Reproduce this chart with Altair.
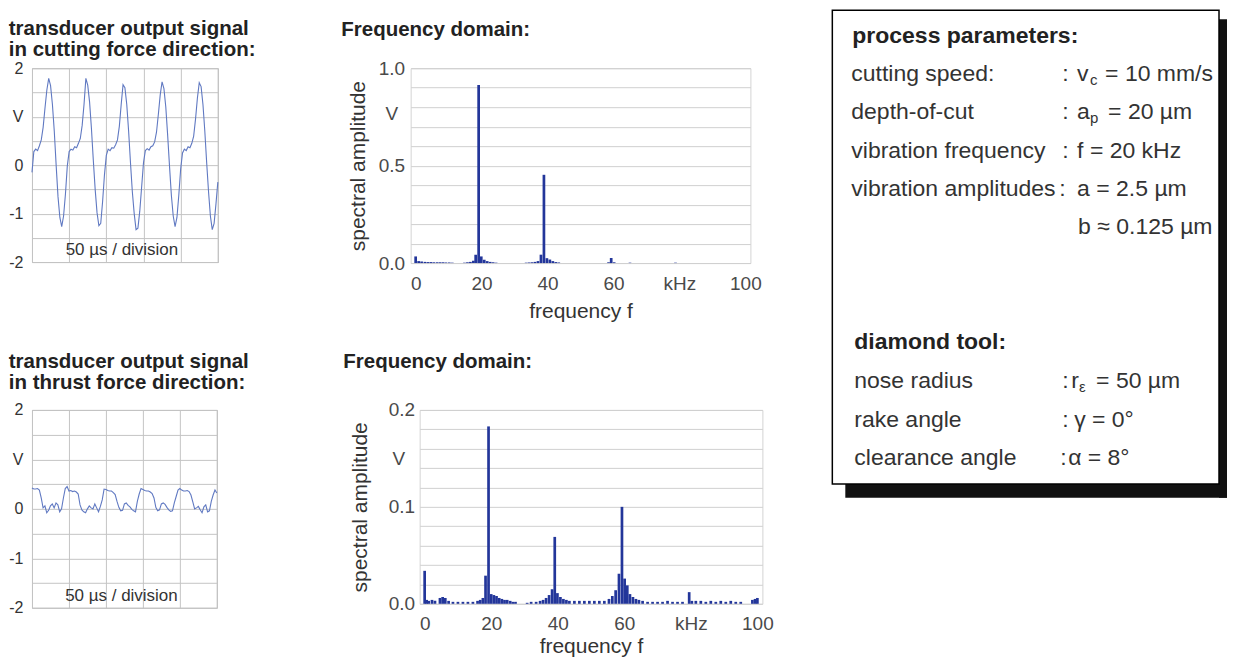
import altair as alt
import pandas as pd

FONT = "Liberation Sans"

# ---------------- data ----------------
# time axis of the oscilloscope traces (µs), sampled every 2.5 µs
time_us = [i * 2.5 for i in range(101)]
time_div = [0, 50, 100, 150, 200, 250]

cutting_v = [
    -0.15, 0.28, 0.33, 0.30, 0.40, 0.52, 0.78, 1.18, 1.55, 1.79,
    1.64, 1.25, 0.70, 0.00, -0.65, -1.08, -1.27, -1.05, -0.60, -0.02,
    0.28, 0.33, 0.31, 0.38, 0.36, 0.45, 0.55, 0.82, 1.25, 1.79,
    1.65, 1.30, 0.75, 0.10, -0.50, -0.98, -1.25, -1.20, -0.75, -0.20,
    0.20, 0.33, 0.30, 0.36, 0.35, 0.42, 0.52, 0.80, 1.25, 1.66,
    1.60, 1.25, 0.70, 0.05, -0.55, -1.00, -1.33, -1.30, -0.95, -0.45,
    0.05, 0.30, 0.34, 0.31, 0.38, 0.40, 0.48, 0.68, 1.05, 1.45,
    1.72, 1.58, 1.20, 0.62, -0.02, -0.62, -1.05, -1.27, -1.08, -0.62,
    -0.08, 0.25, 0.33, 0.30, 0.38, 0.36, 0.45, 0.60, 0.95, 1.38,
    1.70, 1.62, 1.25, 0.70, 0.05, -0.55, -1.05, -1.33, -1.20, -0.80,
    -0.35,
]

thrust_v = [
    0.42, 0.40, 0.40, 0.41, 0.38, 0.22, 0.02, 0.06, -0.08, -0.03,
    0.06, 0.10, 0.02, 0.12, 0.08, -0.06, 0.00, 0.22, 0.41, 0.45,
    0.36, 0.37, 0.35, 0.36, 0.34, 0.30, 0.08, -0.02, -0.06, -0.08,
    0.00, 0.06, 0.02, 0.00, 0.10, 0.02, -0.06, 0.05, 0.18, 0.40,
    0.39, 0.37, 0.36, 0.36, 0.33, 0.29, 0.15, 0.03, -0.04, -0.03,
    0.10, 0.12, 0.07, 0.04, -0.01, -0.04, -0.06, 0.15, 0.30, 0.41,
    0.39, 0.37, 0.36, 0.36, 0.34, 0.31, 0.22, 0.03, -0.04, -0.02,
    0.10, 0.12, 0.09, 0.03, -0.02, -0.05, -0.04, 0.12, 0.25, 0.38,
    0.41, 0.38, 0.36, 0.36, 0.37, 0.35, 0.28, 0.14, 0.00, 0.02,
    0.05, -0.02, -0.08, 0.04, 0.08, -0.06, -0.04, 0.15, 0.28, 0.38,
    0.32,
]

spec1_f = [0, 0.9, 1.8, 2.8, 3.7, 4.6, 5.5, 6.5, 7.4, 8.3, 9.2, 10.2, 11.1,
           14.8, 15.7, 16.6, 17.5, 18.2, 19.1, 19.9, 20.8, 21.7, 22.6, 23.5, 24.4,
           33.5, 34.4, 35.3, 36.2, 37.1, 38.0, 38.9, 39.8, 40.7, 41.6, 42.5, 43.4,
           58.5, 59.3, 60.2, 65.0, 78.8]
spec1_a = [0.034, 0.010, 0.008, 0.006, 0.005, 0.005, 0.004, 0.004, 0.004, 0.004, 0.003, 0.003, 0.002,
           0.002, 0.004, 0.006, 0.012, 0.043, 0.914, 0.034, 0.017, 0.010, 0.006, 0.004, 0.002,
           0.002, 0.003, 0.004, 0.006, 0.010, 0.043, 0.453, 0.025, 0.018, 0.010, 0.005, 0.003,
           0.004, 0.026, 0.004, 0.002, 0.002]

spec2_f = [0, 0.6, 1.2, 2.2, 3.1, 4.6, 5.4, 6.2, 7.2, 8.5, 10, 11.5, 13, 14.5,
           15.9, 16.7, 17.5, 18.3, 19.2, 20.0, 20.8, 21.6, 22.4, 23.2, 24.0, 24.8, 25.7, 26.5, 27.3,
           30.8, 32.0, 33.5, 34.7, 35.6, 36.5, 37.4, 38.3, 39.1, 39.9, 40.8, 41.7, 42.6, 43.5,
           45, 46.5, 48, 49.5, 51, 52.5, 54, 55.4, 56.4, 57.4, 58.4, 59.3, 60.1, 60.9, 61.7,
           62.6, 63.5, 64.4, 65.5, 67, 68.5, 70, 71.5, 73, 74.5, 76, 77.5, 79.5, 80.3,
           81.5, 83, 84.5, 86, 87.5, 89, 90.5, 92, 93.5, 95, 98.5, 99.3, 100]
spec2_a = [0.034, 0.004, 0.003, 0.004, 0.003, 0.006, 0.007, 0.006, 0.003, 0.002, 0.002, 0.002, 0.002, 0.002,
           0.003, 0.004, 0.006, 0.029, 0.183, 0.010, 0.009, 0.008, 0.006, 0.005, 0.004, 0.004, 0.003, 0.002, 0.002,
           0.001, 0.002, 0.002, 0.003, 0.004, 0.006, 0.009, 0.015, 0.069, 0.011, 0.007, 0.005, 0.004, 0.003,
           0.003, 0.003, 0.003, 0.003, 0.003, 0.003, 0.003, 0.005, 0.008, 0.014, 0.031, 0.100, 0.026, 0.019, 0.010,
           0.007, 0.005, 0.004, 0.003, 0.002, 0.002, 0.002, 0.002, 0.003, 0.002, 0.002, 0.002, 0.012, 0.003,
           0.003, 0.003, 0.002, 0.003, 0.002, 0.003, 0.002, 0.003, 0.002, 0.002, 0.004, 0.005, 0.006]

freq_ticks = [0, 20, 40, 60, 80, 100]
spec1_grid = [0, 0.1, 0.2, 0.3, 0.4, 0.5, 0.6, 0.7, 0.8, 0.9, 1.0]
spec2_grid = [0, 0.02, 0.04, 0.06, 0.08, 0.1, 0.12, 0.14, 0.16, 0.18, 0.2]
volt_ticks = [-2, -1.5, -1, -0.5, 0, 0.5, 1, 1.5, 2]

title_cut = ["transducer output signal", "in cutting force direction:"]
title_thrust = ["transducer output signal", "in thrust force direction:"]
title_freq = "Frequency domain:"
note_text = "50 µs / division"

# parameter box text
box_headers = ["process parameters:", "diamond tool:"]
box_labels = ["cutting speed:", "depth-of-cut", "vibration frequency", "vibration amplitudes",
              "nose radius", "rake angle", "clearance angle"]
box_main = ["v", "a", "f = 20 kHz", "a = 2.5 µm", "b ≈ 0.125 µm", "r", "γ = 0°", "α = 8°"]
box_sub = ["c", "p", "ε"]
box_rest = ["= 10 mm/s", "= 20 µm", "= 50 µm"]

# ---------------- styling ----------------
LINE_T = "#6079c2"
BAR = "#23369a"
GRID_T = "#c4c4c4"
GRID_S = "#d0d0d0"
TXT = "#333333"
LAB = "#4a4a4a"


def time_panel(values, lines, w, h, title_offset):
    df = pd.DataFrame({"t": time_us, "v": values})
    x_axis = alt.Axis(values=time_div, labels=False, ticks=False, domain=False,
                      grid=True, gridColor=GRID_T, title=None)
    y_axis = alt.Axis(
        values=volt_ticks,
        labelExpr="datum.value == 1 ? 'V' : (datum.value % 1 == 0 ? "
                  "(datum.value < 0 ? '-' + abs(datum.value) : '' + datum.value) : '')",
        grid=True, gridColor=GRID_T, domain=False, ticks=False, labelOverlap=False,
        labelPadding=9, labelFontSize=16, labelColor=TXT, labelFont=FONT, title=None)
    xs = alt.Scale(domain=[0, 250], nice=False, zero=False)
    ys = alt.Scale(domain=[-2, 2], nice=False)
    line = alt.Chart(df).mark_line(color=LINE_T, strokeWidth=1.1).encode(
        x=alt.X("t:Q", scale=xs, axis=x_axis),
        y=alt.Y("v:Q", scale=ys, axis=y_axis),
    )
    note_df = pd.DataFrame({"t": [121], "v": [-1.76], "s": [note_text]})
    note = alt.Chart(note_df).mark_text(font=FONT, fontSize=17, color=TXT).encode(
        x=alt.X("t:Q", scale=xs, axis=x_axis),
        y=alt.Y("v:Q", scale=ys, axis=y_axis),
        text="s:N")
    return alt.layer(line, note).properties(
        width=w, height=h,
        title=alt.TitleParams(lines, anchor="start", font=FONT, fontSize=20.5, fontWeight="bold",
                              color="#222222", offset=title_offset, lineHeight=21),
        view={"stroke": "#b5b5b5", "strokeWidth": 1},
    )


def spec_panel(freqs, amps, ymax, grid_vals, lab_expr, v_test, v_off, v_pad,
               w, h, title_offset, ytitle_pad, ylab_pad, xtitle_pad):
    df = pd.DataFrame({"f": freqs, "a": amps})
    x_axis = alt.Axis(values=freq_ticks, labelExpr="datum.value == 80 ? 'kHz' : datum.label",
                      grid=False, ticks=False, domain=False, labelFlush=False, labelPadding=11,
                      labelFontSize=19, labelColor=LAB, labelFont=FONT,
                      title="frequency f", titleFont=FONT, titleFontSize=21, titleFontWeight="normal",
                      titleColor=TXT, titlePadding=xtitle_pad)
    y_axis = alt.Axis(values=grid_vals, labelExpr=lab_expr, grid=True, gridColor=GRID_S,
                      ticks=False, domain=False, labelOverlap=False, labelFontSize=19,
                      labelColor=LAB, labelFont=FONT,
                      labelPadding={"condition": {"test": v_test, "value": ylab_pad + v_pad},
                                    "value": ylab_pad},
                      labelOffset={"condition": {"test": v_test, "value": v_off}, "value": 0},
                      title="spectral amplitude", titleFont=FONT, titleFontSize=21,
                      titleFontWeight="normal", titleColor=TXT, titlePadding=ytitle_pad)
    bars = alt.Chart(df).mark_bar(size=2.7, color=BAR).encode(
        x=alt.X("f:Q", scale=alt.Scale(domain=[0, 100], nice=False), axis=x_axis),
        y=alt.Y("a:Q", scale=alt.Scale(domain=[0, ymax], nice=False), axis=y_axis),
    )
    return bars.properties(
        width=w, height=h,
        title=alt.TitleParams(title_freq, anchor="start", font=FONT, fontSize=20.5, fontWeight="bold",
                              color="#222222", offset=title_offset, dx=-6),
        view={"stroke": "#d4d4d4", "strokeWidth": 1},
    )


t1 = time_panel(cutting_v, title_cut, 186, 194, 0)
t2 = time_panel(thrust_v, title_thrust, 185, 198, 8)

s1 = spec_panel(spec1_f, spec1_a, 1.0, spec1_grid,
                "abs(datum.value-1)<1e-6 ? '1.0' : abs(datum.value-0.5)<1e-6 ? '0.5' : "
                "abs(datum.value)<1e-6 ? '0.0' : abs(datum.value-0.8)<1e-6 ? 'V' : ''",
                "abs(datum.value-0.8)<1e-6", 6, 7, 340, 195, 19, 10, 6, 7)
s2 = spec_panel(spec2_f, spec2_a, 0.2, spec2_grid,
                "abs(datum.value-0.2)<1e-6 ? '0.2' : abs(datum.value-0.1)<1e-6 ? '0.1' : "
                "abs(datum.value)<1e-6 ? '0.0' : abs(datum.value-0.16)<1e-6 ? 'V' : ''",
                "abs(datum.value-0.16)<1e-6", 10, 10, 343, 194, 28, 18, 5, 2)

# ---------------- parameter box ----------------
# box drawn in its own pixel-like frame (y measured from the box top); the view is
# aligned with the plots' top, so the frame reaches OFF units above the view.
BW, BH, OFF = 387, 474, 58
bx = alt.X("x:Q", scale=alt.Scale(domain=[0, BW], nice=False, zero=False), axis=None)
by = alt.Y("y:Q", scale=alt.Scale(domain=[OFF, BH], nice=False, zero=False, reverse=True), axis=None)

shadow_df = pd.DataFrame({"x": [BW, 13], "x2": [BW + 8, BW + 8], "y": [9, BH], "y2": [BH + 14, BH + 14]})
shadow = alt.Chart(shadow_df).mark_rect(color="#111111").encode(x=bx, x2="x2:Q", y=by, y2="y2:Q")
frame_df = pd.DataFrame({"x": [0], "x2": [BW], "y": [0], "y2": [BH]})
frame = alt.Chart(frame_df).mark_rect(fill="white", stroke="#000000", strokeWidth=1.5).encode(
    x=bx, x2="x2:Q", y=by, y2="y2:Q")

hdr_df = pd.DataFrame({"x": [20, 22], "y": [26, 332], "s": box_headers})
lbl_df = pd.DataFrame({"x": [19, 19, 19, 19, 22, 22, 22],
                       "y": [64, 102, 141, 179, 371, 410, 448], "s": box_labels})
col_df = pd.DataFrame({"x": [230, 230, 230, 227, 230, 230, 228],
                       "y": [64, 102, 141, 179, 371, 410, 448], "s": [":"] * 7})
main_df = pd.DataFrame({"x": [245, 245, 245, 245, 246, 239, 242, 236],
                        "y": [64, 102, 141, 179, 217, 371, 410, 448], "s": box_main})
sub_df = pd.DataFrame({"x": [258, 258, 247], "y": [70, 108, 377], "s": box_sub})
rest_df = pd.DataFrame({"x": [273, 276, 264], "y": [64, 102, 371], "s": box_rest})


def txt(df, size=23, weight="normal", color=TXT):
    return alt.Chart(df).mark_text(align="left", baseline="middle", font=FONT, fontSize=size,
                                   fontWeight=weight, color=color).encode(x=bx, y=by, text="s:N")


box = alt.layer(
    shadow,
    frame,
    txt(hdr_df, weight="bold", color="#222222"),
    txt(lbl_df),
    txt(col_df),
    txt(main_df),
    txt(sub_df, size=15),
    txt(rest_df),
).properties(width=BW, height=BH - OFF, view={"stroke": "transparent"})

row1 = alt.hconcat(t1, s1, spacing=84)
row2 = alt.hconcat(t2, s2, spacing=93)
left = alt.vconcat(row1, row2, spacing=30)

chart = alt.hconcat(left, box, spacing=56).properties(
    padding={"left": 0, "top": 0, "right": 0, "bottom": 0},
    background="white",
).configure(font=FONT)

chart.save("out.html", embed_options={"renderer": "svg", "actions": False})
